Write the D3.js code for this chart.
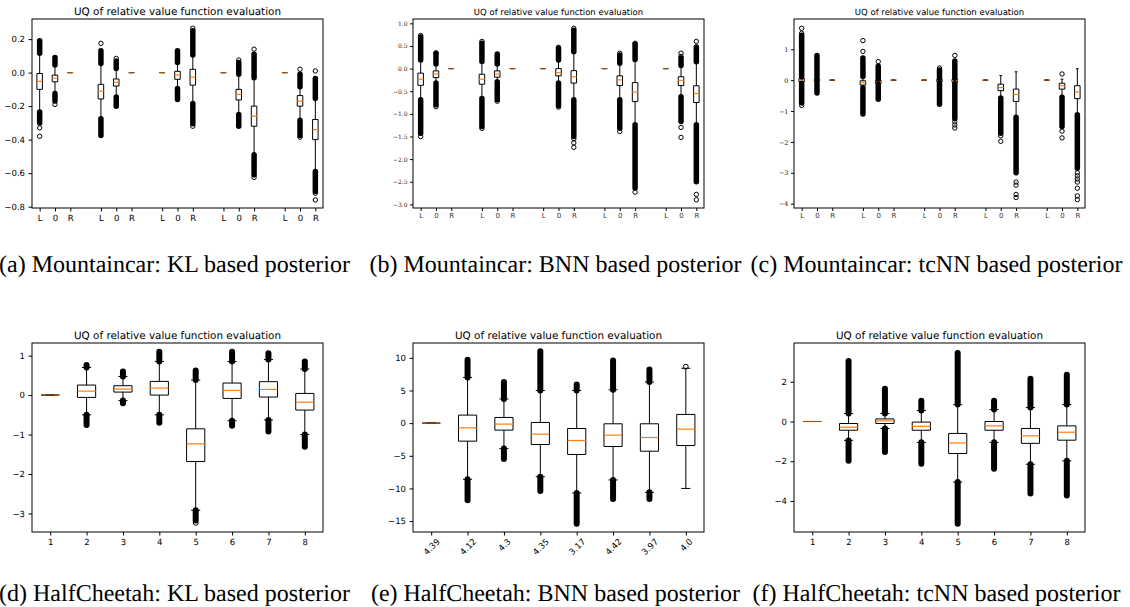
<!DOCTYPE html>
<html>
<head>
<meta charset="utf-8">
<script src="https://cdn.jsdelivr.net/npm/d3@7"></script>
<style>
  body { margin: 0; background: #fff; }
  svg { display: block; text-rendering: geometricPrecision; }
</style>
</head>
<body>
<div id="chart"></div>
<script>
// ---------- data ----------
const mcPositions = [1, 2, 3, 5, 6, 7, 9, 10, 11, 13, 14, 15, 17, 18, 19];
const mcLabels = ['L', '0', 'R', 'L', '0', 'R', 'L', '0', 'R', 'L', '0', 'R', 'L', '0', 'R'];
const hcPositions = [1, 2, 3, 4, 5, 6, 7, 8];
const hcLabels = ['1', '2', '3', '4', '5', '6', '7', '8'];
const hcBnnLabels = ['4.39', '4.12', '4.3', '4.35', '3.17', '4.42', '3.97', '4.0'];

const captions = [
  '(a) Mountaincar: KL based posterior',
  '(b) Mountaincar: BNN based posterior',
  '(c) Mountaincar: tcNN based posterior',
  '(d) HalfCheetah: KL based posterior',
  '(e) HalfCheetah: BNN based posterior',
  '(f) HalfCheetah: tcNN based posterior'
];
const title = 'UQ of relative value function evaluation';

// rows: [lower whisker, q1, median, q3, upper whisker]
const mcKlStats = [
  [-0.235, -0.10, -0.052, -0.005, 0.115],
  [-0.125, -0.055, -0.033, -0.015, 0.045],
  [0, 0, 0, 0, 0],
  [-0.275, -0.157, -0.111, -0.07, 0.055],
  [-0.145, -0.08, -0.058, -0.038, 0.025],
  [0, 0, 0, 0, 0],
  [0, 0, 0, 0, 0],
  [-0.095, -0.04, -0.015, 0.008, 0.06],
  [-0.185, -0.075, -0.027, 0.02, 0.105],
  [0, 0, 0, 0, 0],
  [-0.25, -0.163, -0.13, -0.10, -0.01],
  [-0.49, -0.32, -0.26, -0.20, -0.03],
  [0, 0, 0, 0, 0],
  [-0.285, -0.20, -0.17, -0.137, -0.085],
  [-0.59, -0.40, -0.34, -0.28, -0.155]
];
// dense runs of outliers [lo, hi]
const mcKlBands = [
  [[0.115, 0.19], [-0.30, -0.235]],
  [[0.045, 0.09], [-0.17, -0.125]],
  [],
  [[0.055, 0.13], [-0.375, -0.275]],
  [[0.025, 0.07], [-0.20, -0.145]],
  [],
  [],
  [[0.06, 0.13], [-0.16, -0.095]],
  [[0.105, 0.25], [-0.305, -0.185]],
  [],
  [[-0.01, 0.06], [-0.32, -0.25]],
  [[-0.03, 0.11], [-0.61, -0.49]],
  [],
  [[-0.085, -0.01], [-0.375, -0.285]],
  [[-0.155, -0.035], [-0.71, -0.59]]
];
const mcKlSingles = [
  [-0.33, -0.38], [-0.19], [], [0.175], [0.085], [], [], [], [0.265, -0.32],
  [], [0.075], [0.14, -0.625], [], [0.02, -0.385], [0.01, -0.72, -0.76]
];

const mcBnnStats = [
  [-0.69, -0.37, -0.235, -0.10, 0.19],
  [-0.32, -0.20, -0.12, -0.05, 0.10],
  [0, 0, 0, 0, 0],
  [-0.66, -0.345, -0.235, -0.125, 0.155],
  [-0.29, -0.19, -0.12, -0.05, 0.10],
  [0, 0, 0, 0, 0],
  [0, 0, 0, 0, 0],
  [-0.32, -0.16, -0.09, 0.0, 0.19],
  [-0.69, -0.32, -0.18, -0.045, 0.375],
  [0, 0, 0, 0, 0],
  [-0.69, -0.375, -0.25, -0.16, 0.12],
  [-1.24, -0.73, -0.52, -0.31, 0.20],
  [0, 0, 0, 0, 0],
  [-0.62, -0.375, -0.26, -0.18, 0.07],
  [-1.24, -0.75, -0.55, -0.38, 0.15]
];
const mcBnnBands = [
  [[0.19, 0.70], [-1.43, -0.69]],
  [[0.10, 0.33], [-0.80, -0.32]],
  [],
  [[0.155, 0.56], [-1.28, -0.66]],
  [[0.10, 0.32], [-0.69, -0.29]],
  [],
  [],
  [[0.19, 0.45], [-0.82, -0.32]],
  [[0.375, 0.85], [-1.50, -0.69]],
  [],
  [[0.12, 0.30], [-1.32, -0.69]],
  [[0.20, 0.54], [-2.64, -1.24]],
  [],
  [[0.07, 0.23], [-1.17, -0.62]],
  [[0.15, 0.48], [-2.50, -1.24]]
];
const mcBnnSingles = [
  [0.73, -1.5], [0.35, -0.84], [], [0.6, -1.32], [-0.72], [], [], [0.47, -0.85],
  [0.89, -1.55, -1.64, -1.74], [], [0.34, -1.39], [0.56, -2.73], [],
  [0.27, 0.34, -1.3, -1.52], [0.6, -2.78, -2.9]
];

const mcTcStats = [
  [-0.10, -0.05, 0.01, 0.05, 0.10],
  [-0.05, -0.02, 0.0, 0.02, 0.05],
  [0, 0, 0, 0, 0],
  [-0.25, -0.16, -0.08, -0.02, 0.12],
  [-0.14, -0.10, -0.04, 0.0, 0.03],
  [0, 0, 0, 0, 0],
  [0, 0, 0, 0, 0],
  [-0.10, -0.05, -0.01, 0.02, 0.05],
  [-0.12, -0.07, -0.01, 0.03, 0.06],
  [0, 0, 0, 0, 0],
  [-0.58, -0.34, -0.24, -0.13, 0.15],
  [-1.20, -0.69, -0.46, -0.29, 0.27],
  [0, 0, 0, 0, 0],
  [-0.55, -0.29, -0.18, -0.10, 0.03],
  [-1.12, -0.60, -0.38, -0.18, 0.37]
];
const mcTcBands = [
  [[0.10, 1.45], [-0.74, -0.10]],
  [[0.05, 0.80], [-0.42, -0.05]],
  [],
  [[0.12, 0.72], [-1.10, -0.25]],
  [[0.03, 0.45], [-0.62, -0.14]],
  [],
  [],
  [[0.05, 0.33], [-0.78, -0.10]],
  [[0.06, 0.62], [-1.25, -0.12]],
  [],
  [[-1.72, -0.58]],
  [[-3.0, -1.20]],
  [],
  [[-1.50, -0.55]],
  [[-2.85, -1.12]]
];
const mcTcSingles = [
  [1.52, 1.68, -0.82], [], [], [0.93, 1.28], [0.6], [], [], [0.39],
  [0.8, -1.35, -1.45, -1.55], [], [-1.8, -1.98], [-3.3, -3.4, -3.7, -3.8], [],
  [0.2, -1.65, -1.87], [-3.0, -3.1, -3.2, -3.3, -3.5, -3.75, -3.87]
];

const hcKlStats = [
  [0, 0, 0, 0, 0],
  [-0.50, -0.059, 0.10, 0.254, 0.70],
  [-0.14, 0.076, 0.152, 0.237, 0.47],
  [-0.50, 0.0, 0.178, 0.347, 0.85],
  [-2.92, -1.684, -1.235, -0.855, 0.38],
  [-0.65, -0.085, 0.12, 0.305, 0.85],
  [-0.63, -0.05, 0.144, 0.34, 0.90],
  [-1.0, -0.38, -0.178, 0.042, 0.66]
];
const hcKlBands = [
  [],
  [[0.70, 0.76], [-0.76, -0.50]],
  [[0.47, 0.60], [-0.21, -0.14]],
  [[0.85, 1.10], [-0.70, -0.50]],
  [[0.38, 0.62], [-3.18, -2.92]],
  [[0.85, 1.10], [-0.78, -0.65]],
  [[0.90, 1.06], [-0.92, -0.63]],
  [[0.66, 0.85], [-1.31, -1.0]]
];
const hcKlSingles = [[], [], [], [], [-3.24], [], [], []];

const hcBnnStats = [
  [0, 0, 0, 0, 0],
  [-8.6, -2.76, -0.72, 1.23, 7.0],
  [-3.9, -1.07, -0.15, 0.87, 3.7],
  [-8.2, -3.27, -1.69, 0.10, 5.0],
  [-10.7, -4.8, -2.66, -0.82, 5.0],
  [-8.7, -3.58, -1.84, -0.10, 5.1],
  [-10.6, -4.3, -2.2, -0.10, 6.3],
  [-10.0, -3.43, -0.92, 1.33, 8.4]
];
const hcBnnBands = [
  [],
  [[7.0, 9.7], [-11.8, -8.6]],
  [[3.7, 6.3], [-5.5, -3.9]],
  [[5.0, 11.0], [-10.4, -8.2]],
  [[5.0, 5.9], [-15.4, -10.7]],
  [[5.1, 9.6], [-11.6, -8.7]],
  [[6.3, 8.2], [-11.6, -10.6]],
  []
];
const hcBnnSingles = [[], [], [], [], [], [], [], [8.65]];

const hcTcStats = [
  [0, 0, 0, 0, 0],
  [-0.95, -0.44, -0.29, -0.10, 0.40],
  [-0.35, -0.10, 0.03, 0.13, 0.40],
  [-1.05, -0.44, -0.24, -0.03, 0.55],
  [-3.05, -1.61, -1.08, -0.60, 0.85],
  [-1.05, -0.44, -0.22, 0.0, 0.60],
  [-2.15, -1.10, -0.72, -0.35, 0.70],
  [-1.98, -0.94, -0.54, -0.22, 0.85]
];
const hcTcBands = [
  [],
  [[0.40, 3.05], [-1.98, -0.95]],
  [[0.40, 1.65], [-1.53, -0.35]],
  [[0.55, 1.05], [-2.12, -1.05]],
  [[0.85, 3.45], [-5.15, -3.05]],
  [[0.60, 1.05], [-2.38, -1.05]],
  [[0.70, 2.15], [-3.62, -2.15]],
  [[0.85, 2.35], [-3.72, -1.98]]
];
const hcTcSingles = [[], [], [], [], [], [], [], []];

// ---------- layout ----------
const W = 1130, H = 607;
const frameW = 291, frameH = 189;

const panels = [
  { stats: mcKlStats, bands: mcKlBands, singles: mcKlSingles, pos: mcPositions, labels: mcLabels,
    left: 32, top: 19, xDomain: [0.5, 19.5], yDomain: [-0.808, 0.32],
    yTicks: [-0.8, -0.6, -0.4, -0.2, 0.0, 0.2], yFmt: '.1f', kind: 'a' },
  { stats: mcBnnStats, bands: mcBnnBands, singles: mcBnnSingles, pos: mcPositions, labels: mcLabels,
    left: 413, top: 19, xDomain: [0.5, 19.5], yDomain: [-3.08, 1.096],
    yTicks: [-3, -2.5, -2, -1.5, -1, -0.5, 0, 0.5, 1], yFmt: '.1f', kind: 'small' },
  { stats: mcTcStats, bands: mcTcBands, singles: mcTcSingles, pos: mcPositions, labels: mcLabels,
    left: 794, top: 19, xDomain: [0.5, 19.5], yDomain: [-4.14, 1.98],
    yTicks: [-4, -3, -2, -1, 0, 1], yFmt: 'd', kind: 'small' },
  { stats: hcKlStats, bands: hcKlBands, singles: hcKlSingles, pos: hcPositions, labels: hcLabels,
    left: 32, top: 343, xDomain: [0.5, 8.5], yDomain: [-3.47, 1.32],
    yTicks: [-3, -2, -1, 0, 1], yFmt: 'd', kind: 'big' },
  { stats: hcBnnStats, bands: hcBnnBands, singles: hcBnnSingles, pos: hcPositions, labels: hcBnnLabels,
    left: 413, top: 343, xDomain: [0.5, 8.5], yDomain: [-16.67, 12.27],
    yTicks: [-15, -10, -5, 0, 5, 10], yFmt: 'd', kind: 'big', rotate: true },
  { stats: hcTcStats, bands: hcTcBands, singles: hcTcSingles, pos: hcPositions, labels: hcLabels,
    left: 794, top: 343, xDomain: [0.5, 8.5], yDomain: [-5.56, 3.95],
    yTicks: [-4, -2, 0, 2], yFmt: 'd', kind: 'big' }
];

const svg = d3.select('#chart').append('svg')
  .attr('width', W)
  .attr('height', H)
  .attr('viewBox', '0 0 ' + W + ' ' + H);

function drawPanel(p, idx) {
  const g = svg.append('g').attr('transform', 'translate(' + p.left + ',' + p.top + ')');
  const x = d3.scaleLinear().domain(p.xDomain).range([0, frameW]);
  const y = d3.scaleLinear().domain(p.yDomain).range([frameH, 0]);

  const wide = p.xDomain[1] < 10;
  const boxW = wide ? (x(1.5) - x(1)) : (x(1.36) - x(1));
  const capW = boxW / 2;
  const r = wide ? 2.4 : 2.2;
  const bandW = wide ? 6 : 5.5;
  const small = p.kind === 'small';

  // whiskers and caps
  p.stats.forEach(function(s, i) {
    const cx = x(p.pos[i]);
    g.append('line').attr('x1', cx).attr('x2', cx).attr('y1', y(s[3])).attr('y2', y(s[4]))
      .attr('stroke', '#000').attr('stroke-width', 1);
    g.append('line').attr('x1', cx).attr('x2', cx).attr('y1', y(s[1])).attr('y2', y(s[0]))
      .attr('stroke', '#000').attr('stroke-width', 1);
    [s[0], s[4]].forEach(function(v) {
      g.append('line').attr('x1', cx - capW / 2).attr('x2', cx + capW / 2)
        .attr('y1', y(v)).attr('y2', y(v))
        .attr('stroke', '#000').attr('stroke-width', 1);
    });
  });

  // boxes
  p.stats.forEach(function(s, i) {
    const cx = x(p.pos[i]);
    const x0 = cx - boxW / 2, x1 = cx + boxW / 2;
    const path = 'M' + x0 + ',' + y(s[1]) + 'L' + x1 + ',' + y(s[1]) + 'L' + x1 + ',' + y(s[3]) +
      'L' + x0 + ',' + y(s[3]) + 'Z';
    g.append('path').attr('d', path).attr('fill', 'none')
      .attr('stroke', '#000').attr('stroke-width', 1);
  });

  // medians (a flat box shows its black edge through the median)
  g.selectAll('.median').data(p.stats).enter().append('line')
    .attr('class', 'median')
    .attr('x1', function(s, i) { return x(p.pos[i]) - boxW / 2; })
    .attr('x2', function(s, i) { return x(p.pos[i]) + boxW / 2; })
    .attr('y1', function(s) { return y(s[2]); })
    .attr('y2', function(s) { return y(s[2]); })
    .attr('stroke', '#ff7f0e').attr('stroke-width', 1.2)
    .attr('stroke-opacity', function(s) { return s[1] === s[3] ? 0.65 : 1; });

  // dense outlier runs
  p.bands.forEach(function(list, i) {
    const cx = x(p.pos[i]);
    list.forEach(function(b) {
      g.append('line').attr('x1', cx).attr('x2', cx)
        .attr('y1', y(b[0])).attr('y2', y(b[1]))
        .attr('stroke', '#000').attr('stroke-width', bandW).attr('stroke-linecap', 'round');
    });
  });

  // single outliers
  p.singles.forEach(function(list, i) {
    const cx = x(p.pos[i]);
    list.forEach(function(v) {
      g.append('circle').attr('cx', cx).attr('cy', y(v)).attr('r', r)
        .attr('fill', 'none').attr('stroke', '#000').attr('stroke-width', 1);
    });
  });

  // axes
  const tickFont = small ? 'DejaVu Serif' : 'DejaVu Sans';
  const yAxis = g.append('g')
    .call(d3.axisLeft(y).tickValues(p.yTicks).tickFormat(d3.format(p.yFmt))
      .tickSize(small ? 3 : 3.5).tickPadding(small ? 2.5 : 3.5));
  yAxis.select('.domain').remove();
  yAxis.selectAll('.tick line').attr('stroke', '#000');
  yAxis.selectAll('.tick text')
    .style('font-family', tickFont)
    .style('font-size', small ? (p.yFmt === 'd' ? '6.5px' : '6px') : '8.5px')
    .attr('fill', small ? '#222' : '#000');

  const xAxis = g.append('g').attr('transform', 'translate(0,' + frameH + ')')
    .call(d3.axisBottom(x).tickValues(p.pos)
      .tickFormat(function(d, i) { return p.labels[i]; })
      .tickSize(small ? 3 : 3.5).tickPadding(small ? 2.5 : 3.5));
  xAxis.select('.domain').remove();
  xAxis.selectAll('.tick line').attr('stroke', '#000');
  xAxis.selectAll('.tick text')
    .style('font-family', 'DejaVu Sans')
    .style('font-size', small ? '7px' : '8.5px')
    .attr('fill', small ? '#333' : '#000');

  if (p.rotate) {
    xAxis.selectAll('.tick text')
      .attr('text-anchor', 'middle')
      .attr('y', 0)
      .attr('dy', '0.35em')
      .attr('transform', function() {
        const w = this.getComputedTextLength();
        return 'translate(0,' + (5 + (w + 8.5) * 0.354) + ') rotate(-45)';
      });
  }

  // frame
  g.append('rect').attr('x', 0).attr('y', 0).attr('width', frameW).attr('height', frameH)
    .attr('fill', 'none').attr('stroke', '#000').attr('stroke-width', 1);

  // title
  g.append('text')
    .attr('x', frameW / 2)
    .attr('y', -4.5)
    .attr('text-anchor', 'middle')
    .style('font-family', 'DejaVu Sans')
    .style('font-size', small ? '8.5px' : '10.4px')
    .text(title);

  // caption
  svg.append('text')
    .attr('x', p.left + frameW / 2 - 3)
    .attr('y', p.top < 100 ? 272 : 601)
    .attr('text-anchor', 'middle')
    .style('font-family', 'Liberation Serif')
    .style('font-size', '24px')
    .text(captions[idx]);
}

panels.forEach(drawPanel);
</script>
</body>
</html>
